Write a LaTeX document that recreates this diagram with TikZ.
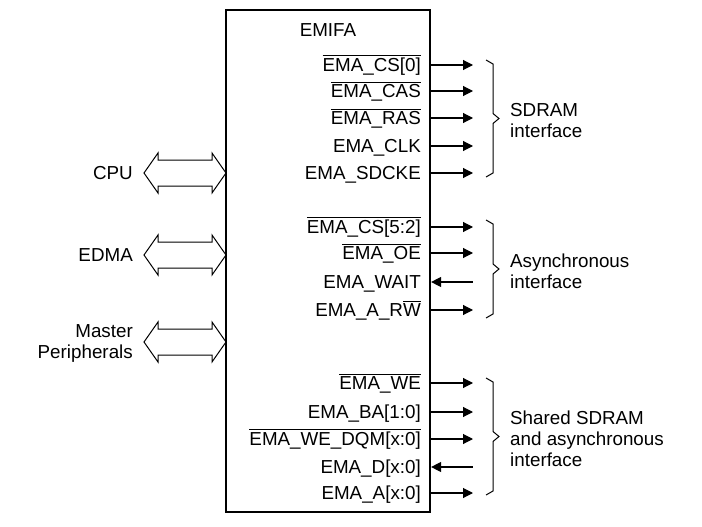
\documentclass[tikz,border=0pt]{standalone}
\usepackage{fontspec}
\setmainfont{Liberation Sans}
\usetikzlibrary{arrows.meta,positioning}
\newcommand{\olsig}[1]{\leavevmode\vbox{\hrule height 1.2pt \kern 1.6pt \hbox{#1}}}
\newcommand{\busarrow}[1]{\draw[busline] (144,#1) -- (158,#1-20) -- (158,#1-13) -- (212,#1-13) -- (212,#1-20) -- (226,#1) -- (212,#1+20) -- (212,#1+13) -- (158,#1+13) -- (158,#1+20) -- cycle;}
\newcommand{\grpbrace}[3]{\coordinate (#3) at (499,{(#1+#2)/2});
  \draw[braceline] (486,#1) -- (493,#1+4) -- (493,{(#1+#2)/2-5}) -- (#3) -- (493,{(#1+#2)/2+5}) -- (493,#2-4) -- (486,#2);}
\tikzset{
  chip/.style={draw, line width=2.2pt, minimum width=204pt, minimum height=502pt, inner sep=0pt},
  signame/.style={anchor=base east, inner sep=0pt},
  sigout/.style={line width=1.1pt, -{Triangle[length=10pt,width=10pt]}},
  sigin/.style={line width=1.1pt, {Triangle[length=10pt,width=10pt]}-},
  busline/.style={line width=1pt, line join=miter},
  braceline/.style={line width=1pt},
  master/.style={anchor=east, align=right, inner sep=0pt},
  grplabel/.style={align=left, inner sep=0pt, yshift=-2pt}
}
\begin{document}
\begin{tikzpicture}[x=1pt, y=-1pt, font=\fontsize{18.8}{21}\selectfont]
  \useasboundingbox (0,0) rectangle (702,527);
  \node[chip] (emifa) at (328,261) {};
  \node[anchor=base, inner sep=0pt] (title) at (328,37) {EMIFA};

  \foreach \y/\txt/\d [count=\i] in {65/\olsig{EMA\_CS[0]}/sigout, 91/\olsig{EMA\_CAS}/sigout, 118/\olsig{EMA\_RAS}/sigout,
      146/EMA\_CLK/sigout, 173/EMA\_SDCKE/sigout, 227/\olsig{EMA\_CS[5:2]}/sigout, 253/\olsig{EMA\_OE}/sigout,
      282/EMA\_WAIT/sigin, 310/EMA\_A\_R\olsig{W}/sigout, 383/\olsig{EMA\_WE}/sigout, 412/EMA\_BA[1:0]/sigout,
      439/\olsig{EMA\_WE\_DQM[x:0]}/sigout, 467/EMA\_D[x:0]/sigin, 493/EMA\_A[x:0]/sigout}{
    \node[signame] (sig\i) at (421,\y+6.5) {\txt};
    \coordinate (pin\i) at (473,\y);
    \draw[\d] (emifa.east |- pin\i) -- (pin\i);
  }

  \grpbrace{60}{177}{sdr} \grpbrace{220}{318}{asy} \grpbrace{378}{495}{shr}
  \node[grplabel, right=11pt of sdr] (sdrtxt) {SDRAM\\interface};
  \node[grplabel, right=11pt of asy] (asytxt) {Asynchronous\\interface};
  \node[grplabel, right=11pt of shr] (shrtxt) {Shared SDRAM\\and asynchronous\\interface};

  \node[master] (cpu) at (133,173) {CPU};
  \node[master] (edma) at (133,255) {EDMA};
  \node[master] (mper) at (133,343) {Master\\Peripherals};
  \busarrow{173} \busarrow{255} \busarrow{342}
\end{tikzpicture}
\end{document}
